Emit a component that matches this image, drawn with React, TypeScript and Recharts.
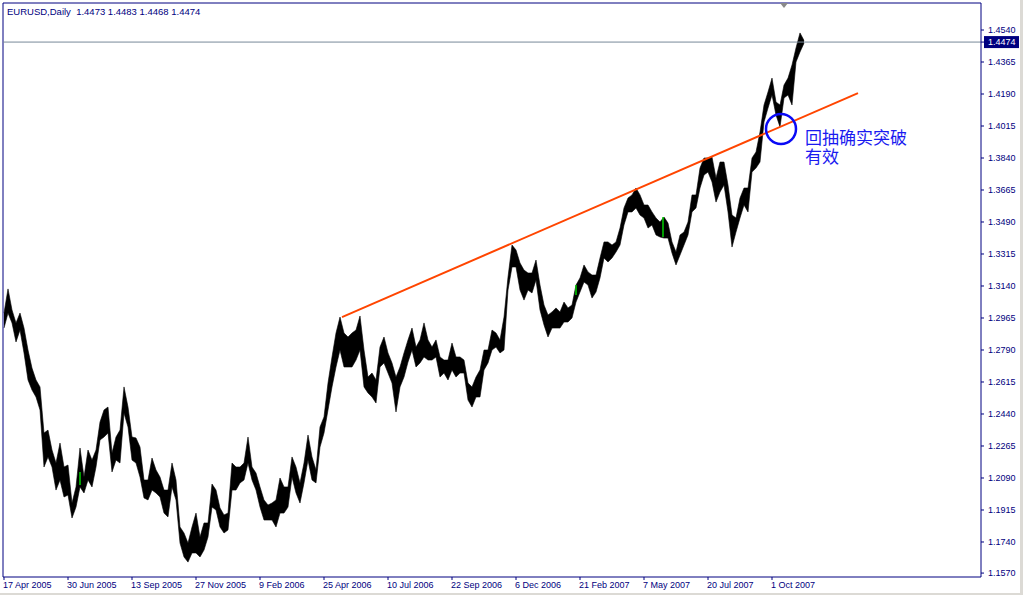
import React from 'react';
import { ComposedChart, Area, XAxis, YAxis, ReferenceLine, ReferenceDot } from 'recharts';

const NAVY = '#000080';
const AXIS_FONT = '"Liberation Sans", Arial, sans-serif';

// EURUSD daily bars, sampled every 4th bar (bar 1 = 17 Apr 2005)
const firstBar = 1;
const barStep = 4;

const highs = [
  1.2992, 1.3124, 1.3009, 1.2938, 1.2992, 1.2910, 1.2790, 1.2691, 1.2626, 1.2588,
  1.2336, 1.2352, 1.2243, 1.2172, 1.2281, 1.2150, 1.2161, 1.1953, 1.2041, 1.2254,
  1.2095, 1.2243, 1.2188, 1.2243, 1.2396, 1.2462, 1.2478, 1.2227, 1.2314, 1.2352,
  1.2588, 1.2478, 1.2314, 1.2309, 1.2259, 1.2079, 1.2079, 1.2199, 1.2134, 1.2095,
  1.2024, 1.2024, 1.2172, 1.2079, 1.1822, 1.1789, 1.1734, 1.1822, 1.1898, 1.1767,
  1.1844, 1.1844, 1.2057, 1.2024, 1.1926, 1.1888, 1.1898, 1.2172, 1.2150, 1.2150,
  1.2172, 1.2314, 1.2150, 1.2117, 1.2041, 1.1970, 1.1942, 1.1953, 1.1970, 1.2090,
  1.2041, 1.2041, 1.2205, 1.2150, 1.2063, 1.2172, 1.2325, 1.2205, 1.2134, 1.2369,
  1.2424, 1.2609, 1.2752, 1.2883, 1.2970, 1.2883, 1.2861, 1.2883, 1.2899, 1.2976,
  1.2790, 1.2642, 1.2664, 1.2626, 1.2806, 1.2861, 1.2774, 1.2719, 1.2642, 1.2697,
  1.2774, 1.2845, 1.2910, 1.2806, 1.2845, 1.2938, 1.2845, 1.2806, 1.2845, 1.2752,
  1.2735, 1.2735, 1.2828, 1.2752, 1.2752, 1.2735, 1.2609, 1.2588, 1.2642, 1.2681,
  1.2790, 1.2790, 1.2899, 1.2883, 1.2845, 1.2970, 1.3189, 1.3364, 1.3337, 1.3266,
  1.3227, 1.3211, 1.3211, 1.3282, 1.3145, 1.3036, 1.2981, 1.2998, 1.3020, 1.2998,
  1.3052, 1.3020, 1.3036, 1.3145, 1.3184, 1.3255, 1.3217, 1.3200, 1.3200, 1.3293,
  1.3381, 1.3381, 1.3364, 1.3381, 1.3457, 1.3567, 1.3621, 1.3638, 1.3676, 1.3638,
  1.3583, 1.3583, 1.3545, 1.3512, 1.3490, 1.3517, 1.3484, 1.3381, 1.3326, 1.3419,
  1.3435, 1.3490, 1.3638, 1.3638, 1.3785, 1.3840, 1.3840, 1.3845, 1.3731, 1.3818,
  1.3818, 1.3692, 1.3528, 1.3512, 1.3621, 1.3676, 1.3676, 1.3840, 1.3873, 1.3982,
  1.4130, 1.4201, 1.4277, 1.4146, 1.4130, 1.4239, 1.4277, 1.4349, 1.4442, 1.4524,
  1.4483,
];

const lows = [
  1.2910, 1.2992, 1.2938, 1.2834, 1.2899, 1.2774, 1.2626, 1.2571, 1.2533, 1.2462,
  1.2150, 1.2205, 1.2150, 1.2024, 1.2079, 1.1986, 1.1997, 1.1871, 1.1931, 1.2041,
  1.2008, 1.2079, 1.2041, 1.2150, 1.2298, 1.2314, 1.2336, 1.2123, 1.2188, 1.2172,
  1.2445, 1.2369, 1.2188, 1.2172, 1.2095, 1.1981, 1.1970, 1.2024, 1.2008, 1.1986,
  1.1898, 1.1877, 1.2041, 1.1970, 1.1734, 1.1658, 1.1630, 1.1680, 1.1680, 1.1658,
  1.1696, 1.1767, 1.1931, 1.1915, 1.1822, 1.1789, 1.1806, 1.2024, 1.2024, 1.2063,
  1.2079, 1.2172, 1.2079, 1.2024, 1.1931, 1.1860, 1.1860, 1.1860, 1.1822, 1.1898,
  1.1898, 1.1931, 1.2095, 1.2008, 1.1953, 1.2063, 1.2188, 1.2079, 1.2063, 1.2259,
  1.2336, 1.2462, 1.2588, 1.2697, 1.2790, 1.2697, 1.2697, 1.2697, 1.2735, 1.2790,
  1.2588, 1.2555, 1.2533, 1.2500, 1.2697, 1.2719, 1.2664, 1.2609, 1.2451, 1.2588,
  1.2642, 1.2724, 1.2790, 1.2697, 1.2719, 1.2752, 1.2735, 1.2735, 1.2752, 1.2642,
  1.2664, 1.2626, 1.2681, 1.2642, 1.2664, 1.2664, 1.2516, 1.2478, 1.2533, 1.2533,
  1.2681, 1.2719, 1.2790, 1.2806, 1.2774, 1.2790, 1.3118, 1.3244, 1.3244, 1.3118,
  1.3063, 1.3118, 1.3102, 1.3173, 1.3009, 1.2927, 1.2861, 1.2910, 1.2910, 1.2910,
  1.2943, 1.2943, 1.2965, 1.3052, 1.3107, 1.3162, 1.3145, 1.3074, 1.3107, 1.3184,
  1.3293, 1.3271, 1.3293, 1.3326, 1.3364, 1.3474, 1.3545, 1.3545, 1.3567, 1.3528,
  1.3512, 1.3457, 1.3474, 1.3419, 1.3408, 1.3402, 1.3402, 1.3320, 1.3255, 1.3309,
  1.3364, 1.3419, 1.3545, 1.3567, 1.3676, 1.3747, 1.3763, 1.3709, 1.3599, 1.3654,
  1.3692, 1.3545, 1.3353, 1.3435, 1.3512, 1.3583, 1.3545, 1.3763, 1.3785, 1.3818,
  1.4037, 1.4113, 1.4185, 1.4075, 1.4010, 1.4168, 1.4185, 1.4130, 1.4365, 1.4420,
  1.4468,
];

// doji bars (open == close) are drawn in the line colour
const dojis = [
  { bar: 77, low: 1.2052, high: 1.2123 },
  { bar: 573, low: 1.3091, high: 1.3145 },
  { bar: 660, low: 1.3408, high: 1.3517 },
];

const dateLabels = [
  '17 Apr 2005', '30 Jun 2005', '13 Sep 2005', '27 Nov 2005', '9 Feb 2006', '25 Apr 2006',
  '10 Jul 2006', '22 Sep 2006', '6 Dec 2006', '21 Feb 2007', '7 May 2007', '20 Jul 2007', '1 Oct 2007',
];
const dateBars = [1, 65, 129, 193, 257, 321, 385, 449, 513, 577, 641, 705, 769];

const priceTicks = [
  1.454, 1.4365, 1.419, 1.4015, 1.384, 1.3665, 1.349, 1.3315, 1.314,
  1.2965, 1.279, 1.2615, 1.244, 1.2265, 1.209, 1.1915, 1.174, 1.157,
];
const lastPrice = 1.4474;
const header = 'EURUSD,Daily  1.4473 1.4483 1.4468 1.4474';

const trendLine = [
  { bar: 339, price: 1.297 },
  { bar: 855, price: 1.4195 },
];
const retest = { bar: 778, price: 1.3999 };
const noteLines = ['回抽确实突破', '有效'];

const barsShown = 978;
const shiftBar = 781;
const priceRange = [1.15485, 1.46877];

const chartData = highs.map((h, i) => ({
  bar: firstBar + i * barStep,
  range: [lows[i], h],
}));

function PriceTick(props: any) {
  const { x, y, payload } = props;
  const v = payload.value;
  const label = v.toFixed(4);
  if (Math.abs(v - lastPrice) < 1e-6) {
    return (
      <g>
        <rect x={x - 4} y={y - 6} width={35} height={12} fill={NAVY} />
        <text x={x} y={y} dy="0.35em" fill="#fff" fontSize={9} fontFamily={AXIS_FONT}>{label}</text>
      </g>
    );
  }
  return (
    <text x={x} y={y} dy="0.35em" fill={NAVY} fontSize={9} fontFamily={AXIS_FONT}>{label}</text>
  );
}

function DateTick(props: any) {
  const { x, y, payload } = props;
  const i = dateBars.indexOf(payload.value);
  return (
    <text x={x - 1} y={y} dy="0.71em" textAnchor="start" fill={NAVY} fontSize={9} fontFamily={AXIS_FONT}>
      {dateLabels[i]}
    </text>
  );
}

// circle on the retest bar plus the two-line note beside it
function RetestMark(props: any) {
  const { cx, cy } = props;
  return (
    <g>
      <circle cx={cx} cy={cy} r={15} fill="none" stroke="#0a0af5" strokeWidth={2.5} />
      <text x={cx + 24} y={cy + 15} fill="#1a1af0" fontSize={17} fontFamily='"Noto Sans CJK SC", sans-serif'>
        {noteLines.map((t, i) => (
          <tspan key={i} x={cx + 24} dy={i === 0 ? 0 : 19}>{t}</tspan>
        ))}
      </text>
    </g>
  );
}

function ShiftMark(props: any) {
  const { cx, cy } = props;
  return <polygon points={`${cx - 4},${cy} ${cx + 4},${cy} ${cx},${cy + 5}`} fill="#8a8a8a" />;
}

export default function App() {
  return (
    <div style={{ position: 'fixed', left: 0, top: 0, width: 1023, height: 595, background: '#dcdad5' }}>
      <div style={{ position: 'absolute', left: 0, top: 0, width: 1020, height: 593, background: '#fff' }}>
        <ComposedChart width={1020} height={593} data={chartData} margin={{ top: 3, right: 0, bottom: 0, left: 3 }}>
          <XAxis dataKey="bar" type="number" domain={[0, barsShown]} ticks={dateBars} interval={0}
            allowDataOverflow height={16} tickSize={3} tickMargin={2}
            axisLine={{ stroke: NAVY }} tickLine={{ stroke: NAVY }}
            tick={(p: any) => <DateTick {...p} />} />
          <YAxis orientation="right" type="number" domain={priceRange} allowDataOverflow
            ticks={[...priceTicks, lastPrice]} interval={0} width={39} tickSize={3} tickMargin={4}
            axisLine={{ stroke: NAVY }} tickLine={{ stroke: NAVY }}
            tick={(p: any) => <PriceTick {...p} />} />
          <ReferenceLine x={0} stroke={NAVY} />
          <ReferenceLine y={priceRange[1]} stroke={NAVY} />
          <ReferenceLine y={lastPrice} stroke="#778899" />
          <Area dataKey="range" type="linear" stroke="#000" strokeWidth={0.6} fill="#000" fillOpacity={1}
            dot={false} activeDot={false} isAnimationActive={false} />
          {dojis.map((d) => (
            <ReferenceLine key={d.bar} segment={[{ x: d.bar, y: d.low }, { x: d.bar, y: d.high }]}
              stroke="#00d000" strokeWidth={1.5} />
          ))}
          <ReferenceLine
            segment={[{ x: trendLine[0].bar, y: trendLine[0].price }, { x: trendLine[1].bar, y: trendLine[1].price }]}
            stroke="#ff4500" strokeWidth={2} />
          <ReferenceDot x={retest.bar} y={retest.price} r={15} shape={(p: any) => <RetestMark {...p} />} />
          <ReferenceDot x={shiftBar} y={priceRange[1]} r={4} shape={(p: any) => <ShiftMark {...p} />} />
        </ComposedChart>
        <div style={{
          position: 'absolute', left: 7, top: 6, fontSize: 9.5, lineHeight: '12px', color: NAVY,
          fontFamily: AXIS_FONT, whiteSpace: 'pre',
        }}>{header}</div>
      </div>
    </div>
  );
}
